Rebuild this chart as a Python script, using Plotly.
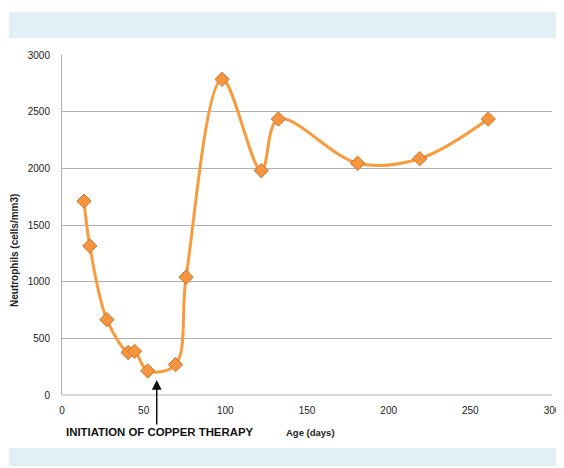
import plotly.graph_objects as go

age_days = [13.5, 17, 27.5, 40.5, 44.5, 52.5, 69.5, 76, 98, 122, 132.5, 181, 219, 261]
neutrophils = [1710, 1315, 665, 375, 385, 212, 268, 1040, 2785, 1980, 2435, 2045, 2085, 2435]

x_ticks = [0, 50, 100, 150, 200, 250, 300]
y_ticks = [0, 500, 1000, 1500, 2000, 2500, 3000]
therapy_day = 58

FONT = "Liberation Sans"
band = "#E2F0F5"

fig = go.Figure()
fig.add_trace(go.Scatter(
    x=age_days, y=neutrophils, mode="lines+markers",
    line=dict(color="#F99A3C", width=3, shape="spline", smoothing=1.0),
    marker=dict(symbol="diamond", size=11, color="#F7953F",
                line=dict(color="#C8752E", width=1)),
    showlegend=False, hoverinfo="x+y",
))

fig.update_layout(
    width=564, height=468,
    margin=dict(l=54, r=20, t=47, b=81, autoexpand=False),
    paper_bgcolor="white", plot_bgcolor="white",
    font=dict(family=FONT, size=10, color="#222"),
    xaxis=dict(range=[0, 300], tickvals=x_ticks, showgrid=False, zeroline=False,
               showline=False, ticks="", tickfont=dict(size=10), ticklabelstandoff=8,
               automargin=False),
    yaxis=dict(range=[0, 3000], tickvals=y_ticks, showgrid=True, gridcolor="#B0B0B0",
               gridwidth=1, zeroline=False, showline=True, linecolor="#B0B0B0",
               ticks="", tickfont=dict(size=10), ticklabelstandoff=9, automargin=False),
    shapes=[
        dict(type="rect", xref="paper", yref="paper", x0=-0.108, x1=1.03,
             y0=(395 - 38) / 340, y1=(395 - 12) / 340, fillcolor=band, line_width=0, layer="below"),
        dict(type="rect", xref="paper", yref="paper", x0=-0.108, x1=1.03,
             y0=(395 - 466) / 340, y1=(395 - 448) / 340, fillcolor=band, line_width=0, layer="below"),
        dict(type="line", xref="paper", yref="paper", x0=0, x1=1, y0=0, y1=0,
             line=dict(color="#B0B0B0", width=1)),
    ],
    annotations=[
        dict(x=therapy_day, xref="x", y=(395 - 380) / 340, yref="paper",
             ax=0, ay=46, axref="pixel", ayref="pixel",
             showarrow=True, arrowhead=2, arrowsize=1.3, arrowwidth=1.5, arrowcolor="#111",
             text=""),
        dict(x=(15 - 62) / 490, xref="paper", y=(395 - 251) / 340, yref="paper", textangle=-90,
             text="<b>Neutrophils (cells/mm3)</b>", showarrow=False,
             font=dict(size=10, color="#222"), xanchor="center", yanchor="middle"),
        dict(x=(160 - 62) / 490, xref="paper", y=(395 - 432) / 340, yref="paper",
             text="<b>INITIATION OF COPPER THERAPY</b>", showarrow=False,
             font=dict(size=11.4, color="#111"), xanchor="center", yanchor="middle"),
        dict(x=(310 - 62) / 490, xref="paper", y=(395 - 432) / 340, yref="paper",
             text="<b>Age (days)</b>", showarrow=False,
             font=dict(size=9.5, color="#222"), xanchor="center", yanchor="middle"),
    ],
)

fig.write_html("out.html")
